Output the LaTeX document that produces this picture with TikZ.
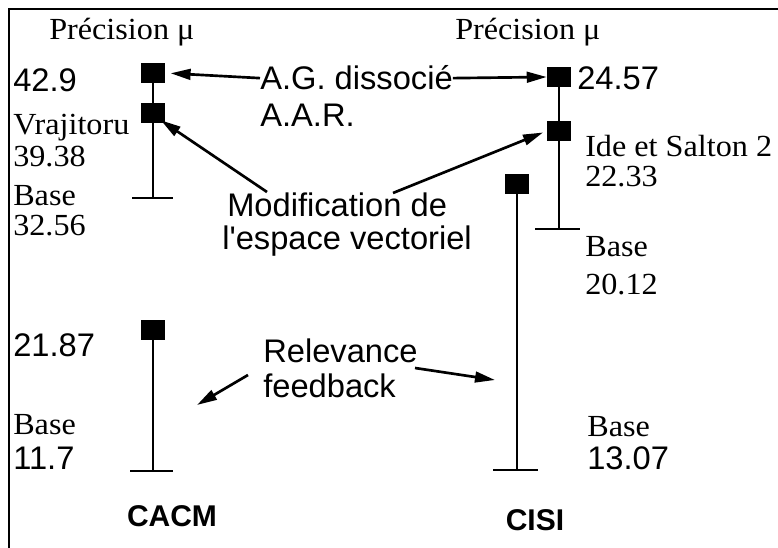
\documentclass[tikz,border=0pt]{standalone}
\usepackage{fontspec}
\setmainfont{Liberation Serif}[FakeStretch=1.05]
\newfontfamily\hlv{Liberation Sans}
\usetikzlibrary{arrows.meta}

\tikzset{
  valbox/.style={fill=black,minimum width=18pt,minimum height=15pt,inner sep=0pt},
  bar/.style={line width=1.5pt},
  pointer/.style={line width=2pt,-{Triangle[length=15pt,width=8pt]}},
  lbl/.style={anchor=base west,inner sep=0pt,font=\fontsize{23}{25}\selectfont},
  num/.style={anchor=base west,inner sep=0pt,font=\hlv\fontsize{24.5}{27}\selectfont},
  corpus/.style={anchor=base,inner sep=0pt,font=\hlv\bfseries\fontsize{22.5}{25}\selectfont}
}

\begin{document}
\begin{tikzpicture}[x=0.75pt,y=-0.75pt]
  \useasboundingbox (0,0) rectangle (778,548);
  % frame (top and left edges only)
  \draw[line width=1.5pt] (9,548) -- (9,9) -- (778,9);
  % CACM column
  \node[lbl] (precA) at (49,40) {Précision μ};
  \node[valbox] (sqA1) at (153,73) {};
  \node[valbox] (sqA2) at (153,113) {};
  \coordinate (baseA) at (153,198);
  \draw[bar] (sqA1) -- (baseA);
  \draw[bar] (132,198) -- (173,198);
  \node[num] (vA1) at (13,92) {42.9};
  \node[lbl] (vA2) at (13,135) {Vrajitoru};
  \node[lbl] (vA3) at (13,167) {39.38};
  \node[lbl] (vA4) at (13,206) {Base};
  \node[lbl] (vA5) at (13,236) {32.56};
  \node[valbox] (sqA3) at (153,330) {};
  \coordinate (baseA2) at (153,471);
  \draw[bar] (sqA3) -- (baseA2);
  \draw[bar] (130,471) -- (173,471);
  \node[num] (vA6) at (13,357) {21.87};
  \node[lbl] (vA7) at (13,435) {Base};
  \node[num] (vA8) at (13,470) {11.7};
  \node[corpus] (cacm) at (172,527) {CACM};
  % CISI column
  \node[lbl] (precB) at (455,40) {Précision μ};
  \node[valbox] (sqB1) at (559,77) {};
  \node[valbox] (sqB2) at (559,131) {};
  \coordinate (baseB) at (559,229);
  \draw[bar] (sqB1) -- (baseB);
  \draw[bar] (535,229) -- (580,229);
  \node[num] (vB1) at (577,90) {24.57};
  \node[lbl] (vB2) at (585,157) {Ide et Salton 2};
  \node[lbl] (vB3) at (585,187) {22.33};
  \node[lbl] (vB4) at (585,257) {Base};
  \node[lbl] (vB5) at (585,295) {20.12};
  \node[valbox] (sqB3) at (517,184) {};
  \coordinate (baseB2) at (517,470);
  \draw[line width=1.2pt] (sqB3) -- (baseB2);
  \draw[bar] (493,470) -- (538,470);
  \node[lbl] (vB6) at (587,437) {Base};
  \node[num] (vB7) at (587,470) {13.07};
  \node[corpus] (cisi) at (535,530) {CISI};
  % annotations
  \node[num] (agd) at (260,90) {A.G. dissocié};
  \node[num] (aar) at (260,127) {A.A.R.};
  \node[num] (mod) at (227,217) {Modification de};
  \node[num] (esp) at (222,250) {l'espace vectoriel};
  \node[num] (rel) at (263,363) {Relevance};
  \node[num] (fb) at (263,398) {feedback};
  \coordinate (modL) at (267,192);
  \coordinate (modR) at (393,193);
  \coordinate (relLt) at (248,375);
  \coordinate (relL) at (197,405);
  \coordinate (relRt) at (415,368);
  \coordinate (relR) at (495,380);
  \draw[pointer,shorten >=4pt] (agd.west) -- (sqA1.east);
  \draw[pointer] (agd.east) -- (sqB1.west);
  \draw[pointer,shorten >=-4pt] (modL) -- (sqA2.south east);
  \draw[pointer,shorten >=3pt] (modR) -- (sqB2.west);
  \draw[pointer] (relLt) -- (relL);
  \draw[pointer] (relRt) -- (relR);
\end{tikzpicture}
\end{document}
